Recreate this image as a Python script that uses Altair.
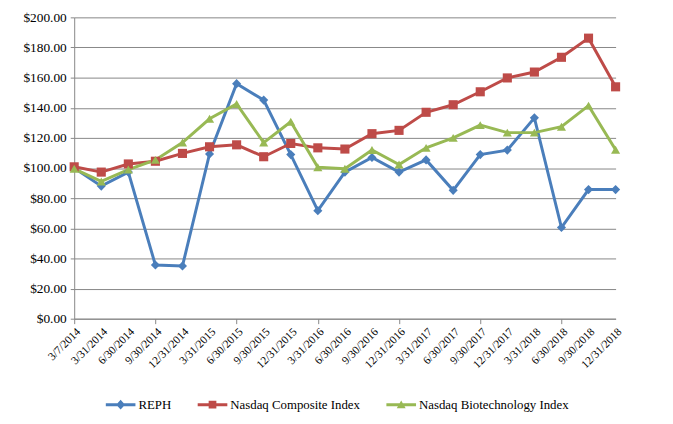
import altair as alt
import pandas as pd

dates = ["3/7/2014", "3/31/2014", "6/30/2014", "9/30/2014", "12/31/2014",
         "3/31/2015", "6/30/2015", "9/30/2015", "12/31/2015", "3/31/2016",
         "6/30/2016", "9/30/2016", "12/31/2016", "3/31/2017", "6/30/2017",
         "9/30/2017", "12/31/2017", "3/31/2018", "6/30/2018", "9/30/2018",
         "12/31/2018"]

reph = [100.0, 88.0, 97.3, 35.6, 35.0, 109.3, 156.0, 145.1, 108.9, 71.7,
        97.3, 107.0, 97.3, 105.4, 85.2, 108.9, 111.9, 133.3, 60.5, 85.7, 85.7]
nasdaq_comp = [100.8, 97.3, 102.7, 104.5, 109.7, 114.1, 115.4, 107.5, 116.3, 113.4,
               112.6, 122.8, 125.0, 137.0, 142.0, 150.6, 159.8, 163.7, 173.5, 186.2, 153.9]
nasdaq_bio = [99.5, 91.1, 99.0, 105.4, 116.9, 132.7, 142.5, 116.9, 130.7, 100.5,
              99.5, 112.0, 102.3, 113.4, 120.0, 128.5, 123.5, 123.5, 127.4, 141.4, 112.1]

series = ["REPH", "Nasdaq Composite Index", "Nasdaq Biotechnology Index"]
colors = ["#4A7EBB", "#BE4B48", "#98B954"]
marker_shapes = ["diamond", "square", "triangle-up"]

# legend glyphs: a line segment with the marker in its middle (Excel style)
BAR = "M-1,-0.1L1,-0.1L1,0.1L-1,0.1Z"
legend_shapes = [
    BAR + "M0,-0.33L0.3,0L0,0.33L-0.3,0Z",
    BAR + "M-0.26,-0.26L0.26,-0.26L0.26,0.26L-0.26,0.26Z",
    BAR + "M0,-0.28L0.3,0.24L-0.3,0.24Z",
]

rows = []
for name, vals in zip(series, [reph, nasdaq_comp, nasdaq_bio]):
    for d, v in zip(dates, vals):
        rows.append({"Date": d, "Value": v, "Series": name})
df = pd.DataFrame(rows)

FONT = "Liberation Serif"
n_last = len(dates) - 1

x = alt.X("Date:N", sort=dates,
          scale=alt.Scale(type="point", padding=0),
          axis=alt.Axis(title=None, labelAngle=-45, labelFontSize=11.5, labelFont=FONT,
                        labelColor="#000000", domainColor="#868686",
                        ticks=True, tickSize=5, tickColor="#868686",
                        tickOpacity=alt.condition(
                            f"round(datum.index*{n_last}) % 3 === 0",
                            alt.value(1), alt.value(0)),
                        grid=False, labelPadding=2))
y = alt.Y("Value:Q",
          scale=alt.Scale(domain=[0, 200], nice=False, zero=True),
          axis=alt.Axis(title=None, values=[0, 20, 40, 60, 80, 100, 120, 140, 160, 180, 200],
                        format="$,.2f", labelFontSize=13.5, labelFont=FONT,
                        labelColor="#000000", gridColor="#868686", domainColor="#868686",
                        tickColor="#868686", tickSize=4, labelPadding=4))
color = alt.Color("Series:N", sort=series,
                  scale=alt.Scale(domain=series, range=colors),
                  legend=alt.Legend(title=None, orient="none", direction="horizontal",
                                    legendX=32, legendY=377, labelFont=FONT,
                                    labelFontSize=13, labelColor="#000000",
                                    symbolSize=900, columnPadding=26, labelOffset=3,
                                    symbolStrokeWidth=0, symbolOpacity=1))

base = alt.Chart(df)
lines = base.mark_line(strokeWidth=3).encode(x=x, y=y, color=color, detail="Series:N")

point_layers = []
for name, shp in zip(series, marker_shapes):
    point_layers.append(
        base.transform_filter(alt.datum.Series == name)
        .mark_point(filled=True, size=85, opacity=1, shape=shp)
        .encode(x=x, y=y, color=color)
    )

legend_layer = base.transform_filter("datum.Value < 0").mark_point(
    filled=True, opacity=1).encode(
    x=x, y=y, color=color,
    shape=alt.Shape("Series:N", sort=series,
                    scale=alt.Scale(domain=series, range=legend_shapes)))

chart = alt.layer(lines, *point_layers, legend_layer).properties(
    width=548, height=305,
    padding={"left": 67, "top": 7, "right": 50, "bottom": 95},
    autosize=alt.AutoSizeParams(type="none"),
    background="white",
).configure(font=FONT).configure_view(stroke=None)

chart.save("out.html", embed_options={"renderer": "svg", "actions": False})
